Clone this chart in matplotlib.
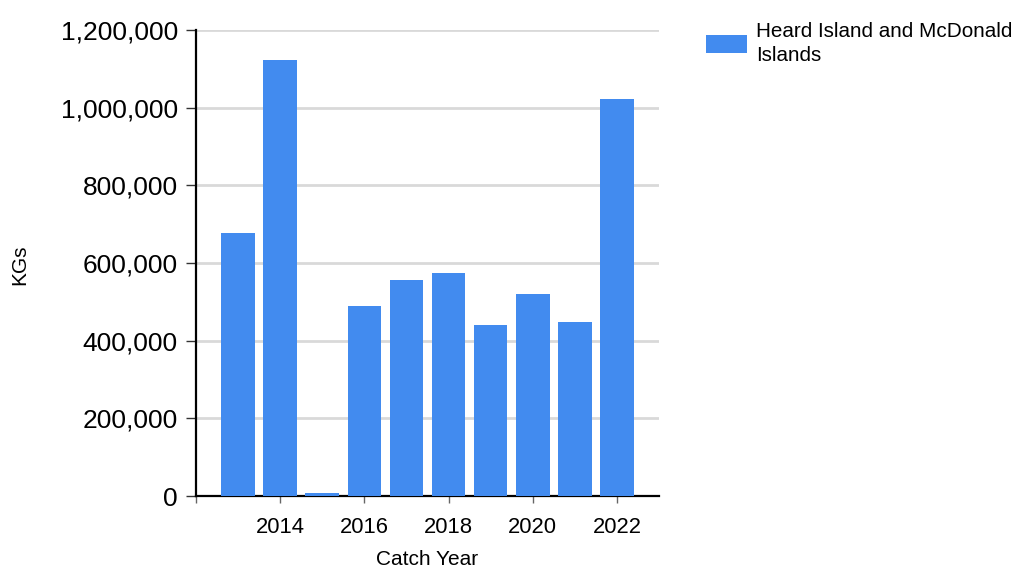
import matplotlib
matplotlib.use("Agg")
import matplotlib.pyplot as plt
from matplotlib.ticker import FuncFormatter

years = [2013, 2014, 2015, 2016, 2017, 2018, 2019, 2020, 2021, 2022]
kgs = [677000, 1124000, 8000, 489000, 557000, 574000, 441000, 520000, 448000, 1022000]
series_name = "Heard Island and McDonald\nIslands"
x_ticks = [2012, 2014, 2016, 2018, 2020, 2022]
x_tick_labels = ["", "2014", "2016", "2018", "2020", "2022"]
y_ticks = [0, 200000, 400000, 600000, 800000, 1000000, 1200000]

plt.rcParams['font.family'] = ['Liberation Sans', 'DejaVu Sans']

W, H = 1017, 570
fig = plt.figure(figsize=(W / 100, H / 100), dpi=100)
ax = fig.add_axes([196 / W, 1 - 496 / H, (659 - 196) / W, (496 - 30) / H])

ax.bar(years, kgs, width=0.8, color="#428BEF", label=series_name, zorder=3)

ax.set_xlim(2012, 2023)
ax.set_ylim(0, 1200000)
ax.set_yticks(y_ticks)
ax.yaxis.set_major_formatter(FuncFormatter(lambda v, p: f"{int(v):,}"))
ax.set_xticks(x_ticks)
ax.set_xticklabels(x_tick_labels)

ax.grid(axis='y', color="#D9D9D9", linewidth=2, zorder=0)
for s in ['top', 'right']:
    ax.spines[s].set_visible(False)
for s in ['left', 'bottom']:
    ax.spines[s].set_linewidth(1.6)
    ax.spines[s].set_color('black')

ax.tick_params(axis='y', labelsize=19, length=7, width=1, color='#333333', pad=6)
ax.tick_params(axis='x', labelsize=15.8, length=5, width=1, color='#666666', pad=10)

ax.set_xlabel("Catch Year", fontsize=15, labelpad=9)
fig.text(20 / W, 1 - 265 / H, "KGs", rotation=90, fontsize=15, ha='center', va='center')

leg = fig.legend(loc='upper left', bbox_to_anchor=(696 / W, 1 - 12 / H), frameon=False,
                 fontsize=14.9, borderpad=0, handlelength=1.95, handleheight=0.95,
                 handletextpad=0.45)
for t in leg.get_texts():
    t.set_linespacing(1.3)

fig.savefig("out.png", dpi=100)
